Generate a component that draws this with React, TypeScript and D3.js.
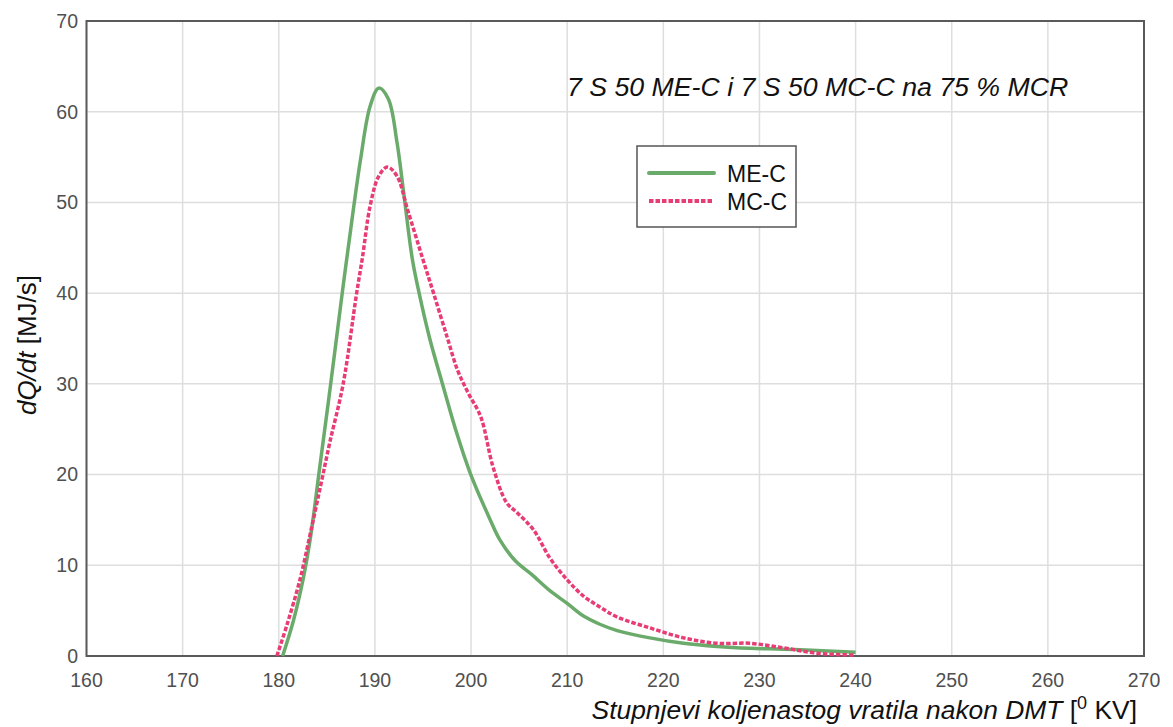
import React from "react";
import * as d3 from "d3";

const xTicks = [160, 170, 180, 190, 200, 210, 220, 230, 240, 250, 260, 270];
const yTicks = [0, 10, 20, 30, 40, 50, 60, 70];

const meX = [180.4, 181.5, 182.5, 183.3, 184.2, 185.4, 186.6, 187.2, 188.5, 189.5, 190.4, 191.4, 192.3, 193, 193.9, 194.6, 195.7, 197, 198.5, 199.9, 202, 203, 204.6, 206.3, 208.2, 210, 211.7, 213.4, 215.2, 218.6, 222.1, 225.6, 229, 232.5, 236, 240];
const meY = [0, 3.8, 8.3, 13.1, 20.3, 30, 40, 44.8, 54.7, 60.6, 62.6, 61.4, 56.6, 51, 43.7, 40, 35, 30.1, 24.6, 20.2, 15, 12.8, 10.5, 9.0, 7.2, 5.8, 4.4, 3.5, 2.8, 2.0, 1.4, 1.05, 0.85, 0.75, 0.6, 0.4];

const mcX = [179.8, 180.9, 182.2, 183.3, 184.4, 185.3, 186.7, 188.1, 188.7, 189.5, 190.4, 191.3, 192.3, 193.4, 195, 196.1, 197.5, 198.6, 199.7, 201, 202.3, 203.7, 204.8, 206.5, 208.2, 210, 211.7, 213.4, 215.2, 218.6, 222.1, 225.6, 229, 232.5, 236, 240];
const mcY = [0, 3.6, 8.4, 13.6, 19, 23.5, 30, 40, 43.9, 49.6, 52.9, 53.9, 52.9, 49.2, 43.7, 40, 35.2, 31.5, 29, 26.4, 20.8, 16.9, 15.8, 13.9, 10.8, 8.4, 6.6, 5.4, 4.3, 3.1, 2.0, 1.4, 1.4, 0.9, 0.3, 0.1];

const seriesNames = ["ME-C", "MC-C"];
const titleText = "7 S 50 ME-C i 7 S 50 MC-C na 75 % MCR";

const W = 1173;
const H = 727;
const L = 86.5, R = 1144, T = 21, B = 656;
const FONT = "'Liberation Sans', Arial, sans-serif";
const GREEN = "#6aab6b";
const PINK = "#e83d74";

export default function App() {
  const x = d3.scaleLinear().domain([160, 270]).range([L, R]);
  const y = d3.scaleLinear().domain([0, 70]).range([B, T]);
  const line = d3
    .line<[number, number]>()
    .x((d) => x(d[0]))
    .y((d) => y(d[1]))
    .curve(d3.curveCatmullRom.alpha(0.5));
  const me: [number, number][] = meX.map((v, i) => [v, meY[i]]);
  const mc: [number, number][] = mcX.map((v, i) => [v, mcY[i]]);

  return (
    <svg width={W} height={H} style={{ position: "absolute", left: 0, top: 0, background: "#fff" }} fontFamily={FONT}>
      <rect x={0} y={0} width={W} height={H} fill="#fff" />
      {xTicks.map((t) => (
        <line key={"gx" + t} x1={x(t)} x2={x(t)} y1={T} y2={B} stroke="#dedede" strokeWidth={1.5} />
      ))}
      {yTicks.map((t) => (
        <line key={"gy" + t} x1={L} x2={R} y1={y(t)} y2={y(t)} stroke="#dedede" strokeWidth={1.5} />
      ))}
      <rect x={L} y={T} width={R - L} height={B - T} fill="none" stroke="#5a5a5a" strokeWidth={2} />
      {yTicks.map((t) => (
        <text key={"ty" + t} x={78} y={y(t)} dy="0.35em" textAnchor="end" fontSize={19.5} fill="#505050">
          {t}
        </text>
      ))}
      {xTicks.map((t) => (
        <text key={"tx" + t} x={x(t)} y={687} textAnchor="middle" fontSize={19.5} fill="#505050">
          {t}
        </text>
      ))}
      <path d={line(me) || ""} fill="none" stroke={GREEN} strokeWidth={3.5} strokeLinejoin="round" />
      <path d={line(mc) || ""} fill="none" stroke={PINK} strokeWidth={3.5} strokeDasharray="4.5,2" />

      <text x={567} y={96} fontSize={26.7} fontStyle="italic" fill="#111">
        {titleText}
      </text>

      <rect x={637} y={146} width={159} height={81} fill="#fff" stroke="#555" strokeWidth={1.5} />
      <line x1={649} x2={714} y1={173} y2={173} stroke={GREEN} strokeWidth={4} strokeLinecap="round" />
      <line x1={649} x2={714} y1={201} y2={201} stroke={PINK} strokeWidth={4} strokeDasharray="4.5,2" />
      <text x={727} y={182} fontSize={23} fill="#111">{seriesNames[0]}</text>
      <text x={727} y={210} fontSize={23} fill="#111">{seriesNames[1]}</text>

      <text x={1137} y={719} textAnchor="end" fontSize={26.4} fill="#111">
        <tspan fontStyle="italic">Stupnjevi koljenastog vratila nakon DMT</tspan>
        <tspan> [</tspan>
        <tspan fontSize={18} dy={-10}>0</tspan>
        <tspan dy={10}> KV]</tspan>
      </text>

      <text transform={`translate(36,345) rotate(-90)`} textAnchor="middle" fontSize={26} fill="#111">
        <tspan fontStyle="italic">dQ/dt</tspan>
        <tspan> [MJ/s]</tspan>
      </text>
    </svg>
  );
}
